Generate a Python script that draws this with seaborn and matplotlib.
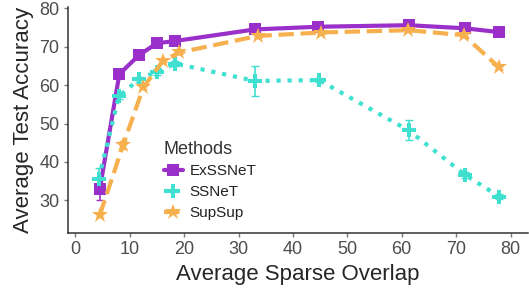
import numpy as np
import pandas as pd
import seaborn as sns
import matplotlib.pyplot as plt

# data
overlap_ex = [4.5, 8.1, 11.7, 15.0, 18.4, 33.0, 44.7, 61.3, 71.6, 77.9]
acc_ex = [33.0, 62.9, 67.8, 70.9, 71.5, 74.5, 75.2, 75.6, 74.8, 73.8]
err_ex = [2.8, 0.5, 0.4, 0.4, 0.4, 0.4, 0.4, 0.4, 0.4, 0.4]

overlap_ss = [4.3, 8.0, 11.7, 15.0, 18.4, 33.0, 44.8, 61.3, 71.6, 77.9]
acc_ss = [35.6, 57.1, 61.5, 63.5, 65.6, 61.1, 61.3, 48.2, 36.7, 31.0]
err_ss = [2.8, 0.8, 0.6, 0.8, 0.6, 4.0, 0.6, 2.6, 0.8, 0.6]

overlap_sup = [4.5, 8.8, 12.5, 16.1, 19.1, 33.5, 45.1, 61.2, 71.4, 77.9]
acc_sup = [26.2, 44.5, 59.4, 66.3, 68.5, 72.8, 73.7, 74.3, 73.0, 64.6]
err_sup = [0.4, 1.0, 0.5, 0.4, 0.4, 0.4, 0.4, 0.4, 0.4, 0.4]

methods = ['ExSSNeT', 'SSNeT', 'SupSup']
colors = ['#9A30C9', '#40E0D0', '#F7B04E']

df = pd.concat([
    pd.DataFrame({'overlap': overlap_ex, 'acc': acc_ex, 'err': err_ex, 'Methods': 'ExSSNeT'}),
    pd.DataFrame({'overlap': overlap_ss, 'acc': acc_ss, 'err': err_ss, 'Methods': 'SSNeT'}),
    pd.DataFrame({'overlap': overlap_sup, 'acc': acc_sup, 'err': err_sup, 'Methods': 'SupSup'}),
])

sns.set_style('ticks')
plt.rcParams['font.family'] = ['Liberation Sans', 'DejaVu Sans']

fig, ax = plt.subplots(figsize=(5.29, 2.98), dpi=100)
fig.subplots_adjust(left=0.128, right=0.999, bottom=0.218, top=0.976)

styles = {'ExSSNeT': ('-', 's', 9), 'SSNeT': (':', 'P', 10), 'SupSup': ('--', '*', 12)}
for m, c in zip(methods, colors):
    d = df[df['Methods'] == m]
    ls, mk, ms = styles[m]
    ax.errorbar(d['overlap'], d['acc'], yerr=d['err'], fmt='none', ecolor=c,
                elinewidth=1.2, capsize=3, zorder=2)
    sns.lineplot(data=d, x='overlap', y='acc', ax=ax, color=c, linestyle=ls,
                 linewidth=3, marker=mk, markersize=ms, markeredgewidth=0,
                 label=m, zorder=3)

ax.set_xlim(-1.4, 83.3)
ax.set_ylim(21.5, 80.3)
ax.set_xticks(np.arange(0, 81, 10))
ax.set_yticks(np.arange(30, 81, 10))
ax.tick_params(labelsize=13, length=3, width=1, color='#777777',
               labelcolor='#4d4d4d', pad=3)
ax.set_xlabel('Average Sparse Overlap', fontsize=16, labelpad=4)
ax.set_ylabel('Average Test Accuracy', fontsize=16, labelpad=4)
sns.despine(ax=ax)
for s in ['left', 'bottom']:
    ax.spines[s].set_color('#333333')
    ax.spines[s].set_linewidth(1.1)

leg = ax.legend(title='Methods', frameon=False, fontsize=11, title_fontsize=13,
                loc='lower left', bbox_to_anchor=(0.195, 0.03), borderaxespad=0,
                handlelength=1.25, labelspacing=0.45, handletextpad=0.45,
                alignment='left')
leg.get_title().set_color('#333333')
for t in leg.get_texts():
    t.set_color('#222222')

plt.savefig('out.png', dpi=100)
